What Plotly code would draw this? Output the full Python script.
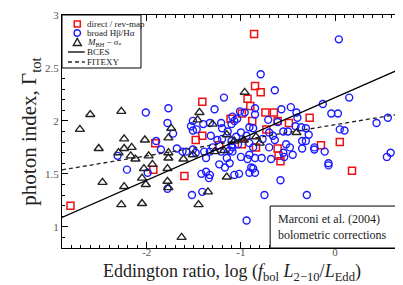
import plotly.graph_objects as go

# ---- data ----
direct_x = [-2.81, -1.93, -1.91, -1.60, -1.48, -1.41, -1.41, -1.23, -1.11, -0.86,
            -0.85, -0.79, -0.93, -0.90, -0.99, -0.88, -0.74, -0.65, -0.61, -0.49,
            -0.27, -0.73, -0.99, -0.84, -0.61, -0.60, -0.58, -0.15, 0.05, 0.18]
direct_y = [1.20, 1.54, 1.79, 1.48, 1.82, 1.86, 2.18, 1.77, 2.02, 2.82,
            2.33, 2.27, 2.21, 2.14, 2.07, 2.00, 2.08, 2.08, 2.00, 1.98,
            2.03, 1.92, 1.78, 1.75, 1.74, 1.67, 1.62, 1.77, 1.80, 1.53]

broad_x = [-1.18, -2.01, -1.77, -1.28, -1.78, -1.51, -1.40, -1.53, -1.51, -1.47,
           -1.20, -1.09, -1.07, -1.72, -1.90, -1.32, -1.20, -1.85, -1.68, -1.62,
           -1.58, -1.51, -2.31, -1.39, -1.37, -1.33, -1.21, -1.12, -1.10, -1.15,
           -1.23, -1.17, -1.12, -2.21, -1.99, -1.42, -1.37, -1.33, -1.07, -1.78,
           -1.52, -1.41, -1.34, -1.48, -1.25, -1.33, -1.21, -1.10, -1.30, -1.14,
           -1.09, -0.79, -0.64, -0.85, -1.01, -0.96, -1.04, -0.85, -0.71, -0.87,
           -0.66, -1.03, -0.91, -0.70, -0.64, -1.09, -0.41, -0.04, 0.03, -0.91,
           -0.61, -0.42, -0.36, -0.31, -0.55, -0.50, -0.35, -0.31, -1.00, -1.05,
           -1.10, -0.94, -0.77, -0.87, -0.70, -0.52, -0.48, -0.55, -0.45, -0.35,
           -0.22, -0.22, -0.11, -0.54, -0.68, -0.78, -0.85, -0.93, -0.91, -1.00,
           -0.89, -0.85, -0.91, -1.02, -0.07, -0.07, -0.58, -0.75, -0.30, 0.05,
           0.10, -0.47, -0.57, -0.40, -0.13, 0.15, 0.44, 0.56, -0.28, 0.59,
           0.55, -0.87, 0.04, -0.94]
broad_y = [2.22, 2.08, 2.12, 2.11, 1.98, 2.00, 1.97, 1.95, 1.91, 1.92,
           1.93, 2.04, 2.00, 1.88, 1.81, 1.86, 1.83, 1.73, 1.74, 1.71,
           1.71, 1.73, 1.67, 1.71, 1.65, 1.71, 1.71, 1.72, 1.77, 1.65,
           1.59, 1.56, 1.60, 1.54, 1.51, 1.50, 1.52, 1.49, 1.49, 1.36,
           1.30, 1.33, 1.46, 1.70, 1.82, 1.98, 1.98, 1.97, 1.75, 1.90,
           1.71, 2.44, 2.29, 2.12, 2.09, 2.08, 2.02, 2.06, 2.01, 1.93,
           1.86, 1.78, 1.79, 1.89, 1.82, 1.75, 2.08, 2.07, 2.07, 1.94,
           1.99, 1.95, 1.94, 1.93, 1.90, 1.90, 1.81, 1.81, 1.89, 1.85,
           1.81, 1.86, 1.83, 1.75, 1.75, 1.78, 1.75, 1.70, 1.68, 1.74,
           1.75, 1.73, 1.71, 1.66, 1.64, 1.65, 1.65, 1.64, 1.68, 1.66,
           1.56, 1.51, 1.51, 1.50, 1.60, 1.58, 1.44, 1.30, 1.30, 1.92,
           1.91, 2.13, 2.11, 2.03, 2.16, 2.22, 1.98, 2.03, 1.87, 1.70,
           1.66, 1.55, 2.77, 1.06]

msigma_x = [-2.60, -2.71, -2.27, -2.51, -2.24, -2.30, -2.24, -2.16, -2.12, -2.17,
            -2.02, -1.98, -1.94, -2.03, -1.77, -1.74, -1.77, -1.77, -1.78, -1.61,
            -1.51, -1.44, -1.46, -1.30, -1.28, -1.15, -1.07, -1.15, -2.47, -2.24,
            -2.01, -2.05, -1.78, -1.77, -2.27, -2.05, -1.35, -1.45, -1.63, -0.96,
            -0.97, -0.84, -0.80, -0.41, -1.18]
msigma_y = [2.06, 1.92, 2.09, 1.74, 1.83, 1.70, 1.74, 1.75, 1.64, 1.67,
            1.82, 1.67, 1.59, 1.55, 1.84, 1.93, 1.70, 1.65, 1.55, 1.64,
            1.68, 2.08, 2.01, 1.97, 1.71, 1.87, 1.81, 1.47, 1.42, 1.38,
            1.40, 1.46, 1.43, 1.37, 1.21, 1.22, 1.33, 1.21, 0.90, 2.27,
            1.82, 1.85, 1.79, 1.89, 1.72]

fit_x = [-2.9, 0.7]
bces_y = [1.089, 2.493]
fitexy_y = [1.538, 2.067]

x_ticks = [-2, -1, 0]
x_ticklabels = ["-2", "-1", "0"]
y_ticks = [1, 1.5, 2, 2.5, 3]
y_ticklabels = ["1", "1.5", "2", "2.5", "3"]

legend_labels = ["direct / rev-map", "broad H\u03b2/H\u03b1",
                 "<i>M</i><sub>BH</sub> \u2212 <i>\u03c3</i><sub>*</sub>", "BCES", "FITEXY"]
x_title = "Eddington ratio, log (<i>f</i><sub>bol</sub> <i>L</i><sub>2\u221210</sub>/<i>L</i><sub>Edd</sub>)"
y_title = "photon index, \u0393<sub>tot</sub>"

SERIF = "Liberation Serif, Times New Roman, serif"
RED = "#ee1111"
BLUE = "#1a1aff"
BLACK = "#222222"
DASH = "4px,3px"

fig = go.Figure()
fig.add_trace(go.Scatter(x=direct_x, y=direct_y, mode="markers", name=legend_labels[0],
                         marker=dict(symbol="square-open", size=7, color=RED,
                                     line=dict(width=1.5, color=RED))))
fig.add_trace(go.Scatter(x=broad_x, y=broad_y, mode="markers", name=legend_labels[1],
                         marker=dict(symbol="circle-open", size=7, color=BLUE,
                                     line=dict(width=1.4, color=BLUE))))
fig.add_trace(go.Scatter(x=msigma_x, y=msigma_y, mode="markers", name=legend_labels[2],
                         marker=dict(symbol="triangle-up-open", size=8, color=BLACK,
                                     line=dict(width=1.4, color=BLACK))))
fig.add_trace(go.Scatter(x=fit_x, y=bces_y, mode="lines", name=legend_labels[3],
                         line=dict(color="black", width=1.3)))
fig.add_trace(go.Scatter(x=fit_x, y=fitexy_y, mode="lines", name=legend_labels[4],
                         line=dict(color=BLACK, width=1.3, dash=DASH)))

axis_common = dict(showline=True, linecolor="black", linewidth=1, mirror="allticks",
                   ticks="inside", ticklen=6, tickcolor="black", tickwidth=1,
                   showgrid=False, zeroline=False, automargin=False,
                   tickfont=dict(family=SERIF, size=11, color="#555"))

fig.update_xaxes(range=[-2.9, 0.7], tickvals=x_ticks, ticktext=x_ticklabels,
                 ticklabelstandoff=-6,
                 minor=dict(dtick=0.1, ticklen=3, ticks="inside", tickcolor="black", showgrid=False),
                 **axis_common)
fig.update_yaxes(range=[0.8, 3.0], tickvals=y_ticks, ticktext=y_ticklabels,
                 minor=dict(dtick=0.1, ticklen=3, ticks="inside", tickcolor="black", showgrid=False),
                 title=dict(text=y_title, font=dict(family=SERIF, size=21, color=BLACK), standoff=2),
                 **axis_common)

# x-axis title as an annotation so the subscripts stay inside the picture
fig.add_annotation(xref="paper", yref="paper", x=0.5, y=-0.107, xanchor="center", yanchor="middle",
                   text=x_title, showarrow=False, font=dict(family=SERIF, size=18, color=BLACK))

# annotation box (bottom right)
fig.add_shape(type="rect", xref="paper", yref="paper", x0=0.614, x1=1.0, y0=0.0, y1=0.18,
              line=dict(color="black", width=1), fillcolor="white", layer="above")
fig.add_annotation(xref="paper", yref="paper", x=0.632, y=0.09, xanchor="left", yanchor="middle",
                   text="Marconi et al. (2004)<br>bolometric corrections", showarrow=False,
                   align="left", font=dict(family=SERIF, size=12, color=BLACK))

# compact legend box (top left)
fig.add_shape(type="rect", xref="paper", yref="paper", x0=0.0, x1=0.233, y0=0.7725, y1=1.0,
              line=dict(color="black", width=1), fillcolor="white", layer="above")
row_y = [0.9614, 0.9227, 0.882, 0.8412, 0.7983]
sym_x = 0.0451
text_x = 0.0693
fig.add_shape(type="rect", xref="paper", yref="paper", xsizemode="pixel", ysizemode="pixel",
              xanchor=sym_x, yanchor=row_y[0], x0=-3, x1=3, y0=-3, y1=3,
              line=dict(color=RED, width=1.5), layer="above")
fig.add_shape(type="circle", xref="paper", yref="paper", xsizemode="pixel", ysizemode="pixel",
              xanchor=sym_x, yanchor=row_y[1], x0=-3.2, x1=3.2, y0=-3.2, y1=3.2,
              line=dict(color=BLUE, width=1.4), layer="above")
fig.add_shape(type="path", xref="paper", yref="paper", xsizemode="pixel", ysizemode="pixel",
              xanchor=sym_x, yanchor=row_y[2], path="M -4 -3 L 4 -3 L 0 4 Z",
              line=dict(color=BLACK, width=1.4), layer="above")
fig.add_shape(type="line", xref="paper", yref="paper", x0=0.0177, x1=0.067,
              y0=row_y[3], y1=row_y[3], line=dict(color="black", width=1.3), layer="above")
fig.add_shape(type="line", xref="paper", yref="paper", x0=0.0177, x1=0.067,
              y0=row_y[4], y1=row_y[4], line=dict(color=BLACK, width=1.3, dash=DASH), layer="above")
for lab, yy in zip(legend_labels, row_y):
    fig.add_annotation(xref="paper", yref="paper", x=text_x, y=yy, xanchor="left", yanchor="middle",
                       text=lab, showarrow=False, font=dict(family=SERIF, size=9, color=BLACK))

fig.update_layout(width=403, height=285, margin=dict(l=54, r=10, t=7, b=45),
                  paper_bgcolor="white", plot_bgcolor="white", showlegend=False,
                  font=dict(family=SERIF, color=BLACK))

fig.write_html("out.html")
